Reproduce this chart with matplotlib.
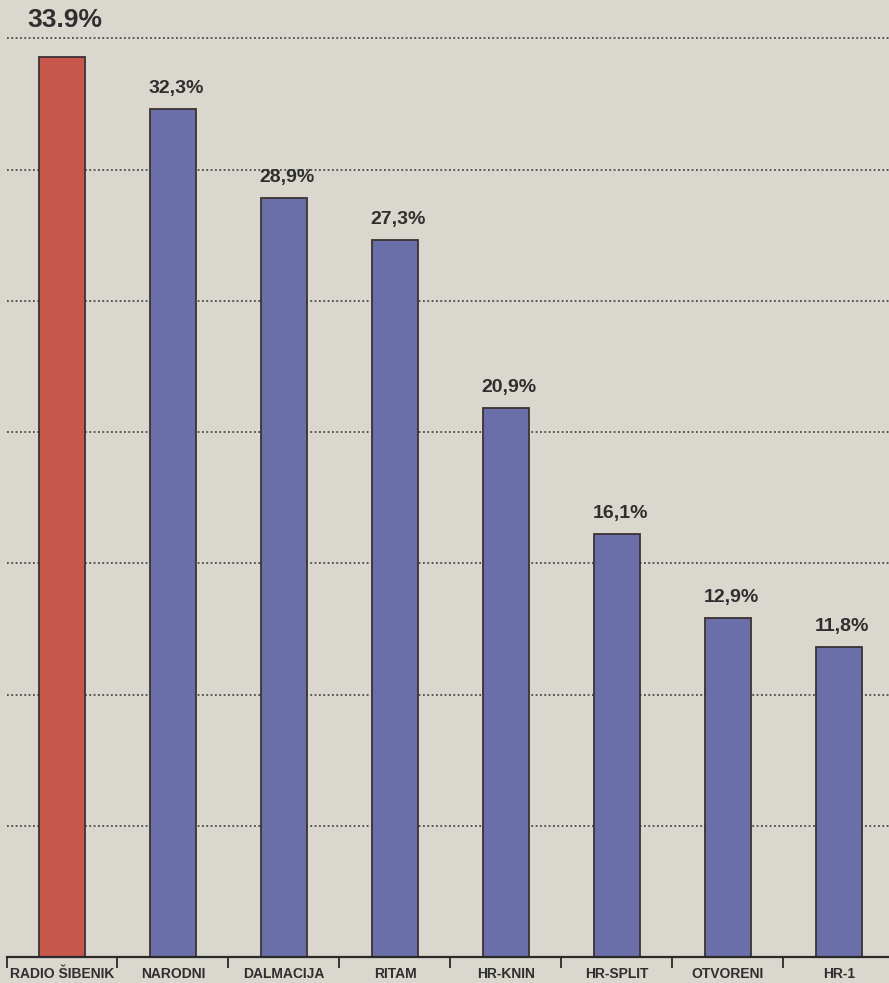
import numpy as np
import matplotlib.pyplot as plt

# Data
stations = ["RADIO ŠIBENIK", "NARODNI", "DALMACIJA", "RITAM",
            "HR-KNIN", "HR-SPLIT", "OTVORENI", "HR-1"]
# bar heights as drawn (the first bar is drawn a bit taller than its label)
bar_heights = [34.3, 32.3, 28.9, 27.3, 20.9, 16.1, 12.9, 11.8]
value_labels = ["33.9%", "32,3%", "28,9%", "27,3%", "20,9%", "16,1%", "12,9%", "11,8%"]
grid_levels = [5, 10, 15, 20, 25, 30, 35]

bg = "#dad7ce"
red = "#c7564b"
blue = "#6a6ea9"
edge = "#3b3232"
textc = "#2f2f2f"

fig = plt.figure(figsize=(8.89, 9.83), dpi=100, facecolor=bg)
ax = fig.add_axes([6.5/889, 26/983, 888/889, 957/983])
ax.set_facecolor(bg)

x = np.arange(len(stations))
colors = [red] + [blue] * (len(stations) - 1)

# dotted guide lines behind the bars
for g in grid_levels:
    ax.axhline(g, color="#4a4a4a", lw=1.3, ls=(0, (1, 1.4)), zorder=0)

ax.bar(x, bar_heights, width=0.41, color=colors, edgecolor=edge,
       linewidth=1.3, zorder=2)

for i, (h, lab) in enumerate(zip(bar_heights, value_labels)):
    if i == 0:
        ax.annotate(lab, (x[i] + 0.03, h), xytext=(0, 18), textcoords="offset points",
                    ha="center", va="bottom", fontsize=19, fontweight="bold",
                    color=textc, family="Liberation Sans")
    else:
        ax.annotate(lab, (x[i] + 0.03, h), xytext=(0, 9), textcoords="offset points",
                    ha="center", va="bottom", fontsize=14, fontweight="bold",
                    color=textc, family="Liberation Sans")

ax.set_xlim(-0.5, len(stations) - 0.5)
ax.set_ylim(0, 957/26.25)

for s in ["top", "right", "left"]:
    ax.spines[s].set_visible(False)
ax.spines["bottom"].set_color("#2a2a2a")
ax.spines["bottom"].set_linewidth(1.6)
ax.spines["bottom"].set_zorder(3)

ax.set_yticks([])
ax.set_xticks(x)
ax.set_xticklabels(stations, fontsize=10, fontweight="bold", color=textc,
                   family="Liberation Sans")
ax.tick_params(axis="x", which="major", length=0, pad=7.5)
ax.set_xticks(np.arange(len(stations) + 1) - 0.5, minor=True)
ax.tick_params(axis="x", which="minor", length=8, width=1.3, color="#2a2a2a",
               direction="out")

fig.savefig("out.png", dpi=100, facecolor=bg)
